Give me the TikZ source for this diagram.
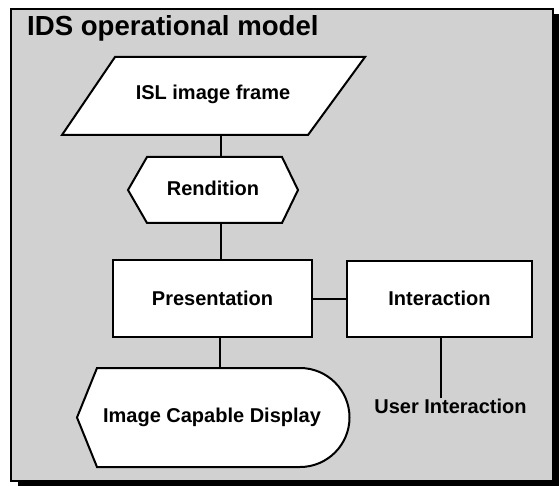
\documentclass[tikz,border=0pt]{standalone}
\usepackage{fontspec}
\setmainfont{Liberation Sans}
\definecolor{dotgray}{gray}{0.82}
\begin{document}
\begin{tikzpicture}[x=1pt,y=-1pt,
  shapeline/.style={draw=black, line width=2pt, fill=white, line join=miter},
  boxnode/.style={draw=black, line width=2pt, fill=white, inner sep=0pt,
    font=\bfseries\fontsize{20}{24}\selectfont},
  link/.style={draw=black, line width=2pt},
  lbl/.style={font=\bfseries\fontsize{20}{24}\selectfont, inner sep=0pt, anchor=base}]
\useasboundingbox (0,0) rectangle (559,486);
% frame with shadow
\fill[black] (18,14) rectangle (559,486);
\filldraw[fill=dotgray, draw=black, line width=2pt] (11,9) rectangle (553,481);
\node[font=\bfseries\fontsize{27.6}{30}\selectfont, anchor=base west, inner sep=0pt] (title) at (27,36) {IDS operational model};
% ISL image frame (parallelogram)
\draw[shapeline] (115,57) -- (365,57) -- (308,135) -- (62,135) -- cycle;
\node[lbl] (isl) at (213,100) {ISL image frame};
\coordinate (islS) at (221,135);
% Rendition (hexagon)
\draw[shapeline] (147,157) -- (282,157) -- (298,190) -- (282,223) -- (147,223) -- (128,190) -- cycle;
\node[lbl] (ren) at (213,196) {Rendition};
\coordinate (renN) at (221,157);
\coordinate (renS) at (221,223);
% Presentation and Interaction
\node[boxnode, minimum width=199pt, minimum height=77pt] (pres) at (212.5,298.5) {Presentation};
\node[boxnode, minimum width=185pt, minimum height=76pt] (inter) at (439.5,298.5) {Interaction};
\coordinate (spine) at (221,0);
\coordinate (uspine) at (441,0);
% Display
\draw[shapeline] (97,368) -- (300,368) arc[start angle=-90, end angle=90, radius=49.5] -- (97,467) -- (77,417.5) -- cycle;
\node[lbl] (disp) at (212,422) {Image Capable Display};
\coordinate (dispN) at (220,368);
\node[lbl] (user) at (450.5,413) {User Interaction};
% connectors
\draw[link] (islS) -- (renN);
\draw[link] (renS) -- (pres.north -| renS);
\draw[link] (pres.south -| dispN) -- (dispN);
\draw[link] (pres.east) -- (inter.west);
\draw[link] (inter.south -| uspine) -- (user.north -| uspine);
\end{tikzpicture}
\end{document}
